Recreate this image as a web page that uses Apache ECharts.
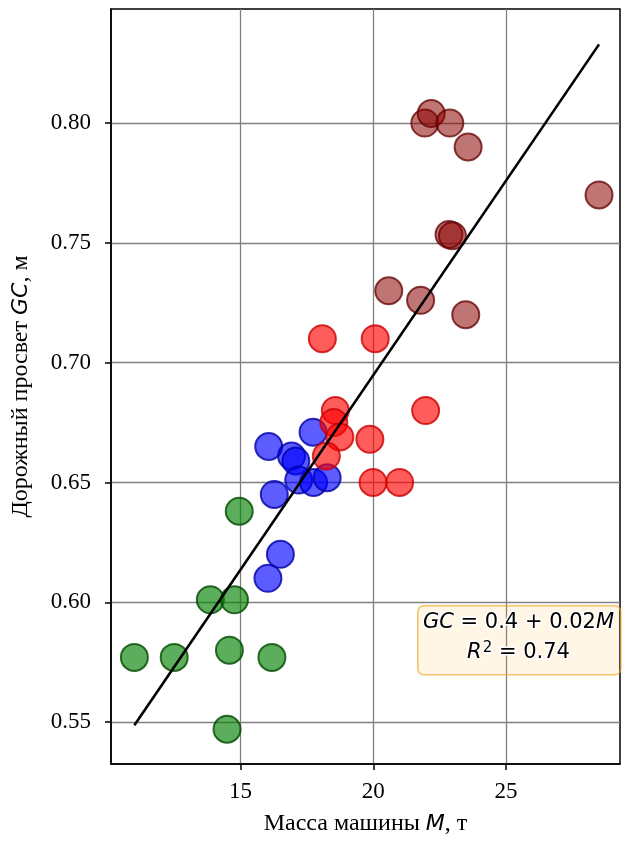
<!DOCTYPE html>
<html>
<head>
<meta charset="utf-8">
<script src="https://cdn.jsdelivr.net/npm/echarts@6/dist/echarts.min.js"></script>
<style>
  html, body { margin: 0; padding: 0; background: #fff; }
  #chart { width: 625px; height: 843px; }
</style>
</head>
<body>
<div id="chart"></div>
<script>
// Vehicle groups: mass M (t) and ground clearance GC (m)
const lightMass  = [11.0, 12.5, 13.86, 14.77, 14.95, 14.58, 16.18, 14.49];
const lightGC    = [0.577, 0.577, 0.601, 0.601, 0.638, 0.580, 0.577, 0.547];

const mediumMass = [16.06, 17.73, 16.92, 17.08, 17.19, 17.75, 18.26, 16.27, 16.5, 16.03];
const mediumGC   = [0.665, 0.671, 0.661, 0.659, 0.651, 0.650, 0.652, 0.645, 0.620, 0.610];

const heavyMass  = [18.08, 20.07, 18.57, 21.97, 18.51, 18.74, 19.87, 18.23, 19.99, 20.99];
const heavyGC    = [0.710, 0.710, 0.680, 0.680, 0.675, 0.669, 0.668, 0.661, 0.650, 0.650];

const superMass  = [21.94, 22.18, 22.88, 23.57, 28.5, 22.85, 22.98, 20.58, 21.78, 23.48];
const superGC    = [0.800, 0.804, 0.800, 0.790, 0.770, 0.7535, 0.753, 0.730, 0.726, 0.720];

// Linear fit GC = a + b*M
const fitIntercept = 0.370;
const fitSlope = 0.01624;
const fitR2 = 0.74;

const xTicks = [15, 20, 25];
const yTicks = [0.55, 0.60, 0.65, 0.70, 0.75, 0.80];

const pairs = (xs, ys) => xs.map((x, i) => [x, ys[i]]);
const allMass = [].concat(lightMass, mediumMass, heavyMass, superMass);
const mMin = Math.min(...allMass), mMax = Math.max(...allMass);
const fitLine = [mMin, mMax].map(m => [m, fitIntercept + fitSlope * m]);

const serif = 'Liberation Serif';
const sans = 'DejaVu Sans';

function group(data, fill, edge) {
  return {
    type: 'scatter',
    data: data,
    symbol: 'circle',
    symbolSize: 27,
    itemStyle: { color: fill, borderColor: edge, borderWidth: 2 },
    emphasis: { disabled: true }
  };
}

const chart = echarts.init(document.getElementById('chart'), null, { renderer: 'canvas' });
chart.setOption({
  animation: false,
  backgroundColor: '#fff',
  grid: {
    left: 111, right: 5, top: 9, bottom: 79,
    show: true, borderColor: '#000', borderWidth: 1.5, backgroundColor: 'transparent'
  },
  xAxis: {
    type: 'value',
    min: 10.12, max: 29.29,
    splitNumber: 4,
    name: 'Масса машины {i|M}, т',
    nameLocation: 'middle',
    nameGap: 48,
    nameTextStyle: {
      fontFamily: serif, fontSize: 24, color: '#000',
      rich: { i: { fontFamily: sans, fontStyle: 'italic', fontSize: 22, color: '#000' } }
    },
    axisLine: { show: true, lineStyle: { color: '#000', width: 1.5 } },
    axisTick: { show: true, inside: false, length: 6, customValues: xTicks, lineStyle: { color: '#000', width: 1.5 } },
    axisLabel: { customValues: xTicks, margin: 16, fontFamily: serif, fontSize: 23, color: '#000' },
    splitLine: { show: true, lineStyle: { color: '#808080', width: 1.3 } }
  },
  yAxis: {
    type: 'value',
    min: 0.5325, max: 0.8476,
    splitNumber: 6,
    name: 'Дорожный просвет {i|GC}, м',
    nameLocation: 'middle',
    nameGap: 78,
    nameTextStyle: {
      fontFamily: serif, fontSize: 24, color: '#000',
      rich: { i: { fontFamily: sans, fontStyle: 'italic', fontSize: 22, color: '#000' } }
    },
    axisLine: { show: true, lineStyle: { color: '#000', width: 1.5 } },
    axisTick: { show: true, inside: false, length: 6, customValues: yTicks, lineStyle: { color: '#000', width: 1.5 } },
    axisLabel: {
      customValues: yTicks, margin: 20, fontFamily: serif, fontSize: 23, color: '#000',
      formatter: v => v.toFixed(2)
    },
    splitLine: { show: true, lineStyle: { color: '#808080', width: 1.3 } }
  },
  series: [
    group(pairs(lightMass, lightGC), 'rgba(0,128,0,0.8)', '#004a00'),
    group(pairs(mediumMass, mediumGC), 'rgba(0,0,255,0.8)', '#0000a8'),
    group(pairs(heavyMass, heavyGC), 'rgba(255,0,0,0.8)', '#cc0000'),
    group(pairs(superMass, superGC), 'rgba(139,0,0,0.68)', 'rgba(100,0,0,0.95)'),
    {
      type: 'line',
      data: fitLine,
      showSymbol: false,
      symbol: 'none',
      lineStyle: { color: '#000', width: 2.6 },
      z: 5,
      emphasis: { disabled: true }
    }
  ],
  graphic: [
    {
      type: 'rect',
      left: 417, top: 605,
      shape: { width: 203, height: 69, r: 6 },
      style: { fill: 'rgba(255,165,0,0.1)', stroke: 'rgba(240,165,30,0.65)', lineWidth: 1.6 },
      z: 100
    },
    {
      type: 'text',
      x: 518.5, y: 623,
      style: {
        text: '{i|GC} = ' + fitIntercept.toFixed(1) + ' + ' + fitSlope.toFixed(2) + '{i|M}',
        fontFamily: sans, fontSize: 21, fill: '#000',
        align: 'center', verticalAlign: 'middle',
        stroke: '#fff', lineWidth: 3,
        rich: { i: { fontFamily: sans, fontStyle: 'italic', fontSize: 21, fill: '#000', stroke: '#fff', lineWidth: 3 } }
      },
      z: 101
    },
    {
      type: 'text',
      x: 518.5, y: 653,
      style: {
        text: '{i|R}{s|2} = ' + fitR2.toFixed(2),
        fontFamily: sans, fontSize: 21, fill: '#000',
        align: 'center', verticalAlign: 'middle',
        stroke: '#fff', lineWidth: 3,
        rich: {
          i: { fontFamily: sans, fontStyle: 'italic', fontSize: 21, fill: '#000', stroke: '#fff', lineWidth: 3 },
          s: { fontFamily: sans, fontSize: 15, fill: '#000', stroke: '#fff', lineWidth: 3, verticalAlign: 'top', padding: [0, 0, 9, 1] }
        }
      },
      z: 101
    }
  ]
});
</script>
</body>
</html>
